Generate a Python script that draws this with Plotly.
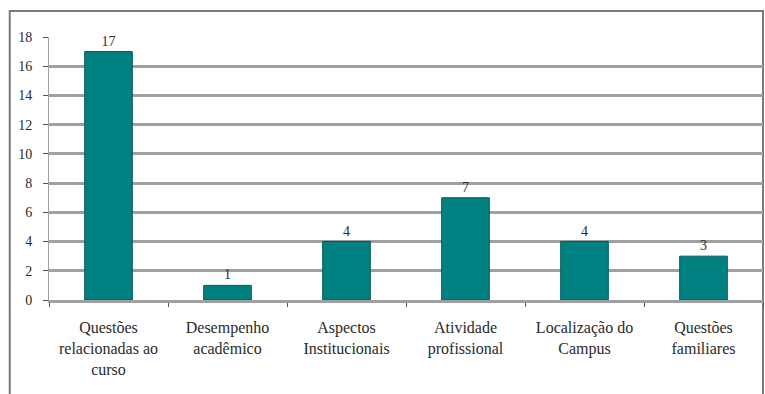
import plotly.graph_objects as go

# Motivos citados e número de respostas
categorias = [
    "Questões<br>relacionadas ao<br>curso",
    "Desempenho<br>acadêmico",
    "Aspectos<br>Institucionais",
    "Atividade<br>profissional",
    "Localização do<br>Campus",
    "Questões<br>familiares",
]
respostas = [17, 1, 4, 7, 4, 3]
y_ticks = list(range(0, 20, 2))

fonte = "Liberation Serif, Times New Roman, serif"
cinza = "#a0a0a0"
texto = "#2a2a2a"

fig = go.Figure(
    go.Bar(
        x=categorias,
        y=respostas,
        marker=dict(color="#008080", line=dict(color="#005a5a", width=1)),
        text=respostas,
        textposition="outside",
        textfont=dict(family=fonte, size=14, color=texto),
        cliponaxis=False,
    )
)

fig.update_layout(
    width=765,
    height=394,
    margin=dict(l=49, r=2, t=37, b=94),
    paper_bgcolor="white",
    plot_bgcolor="white",
    bargap=0.6,
    showlegend=False,
    font=dict(family=fonte, size=16, color=texto),
    xaxis=dict(
        showgrid=False,
        showline=True,
        linecolor=cinza,
        linewidth=3,
        ticks="outside",
        tickson="boundaries",
        ticklen=4,
        tickcolor="#555555",
        tickfont=dict(family=fonte, size=16, color=texto),
        ticklabelstandoff=11,
    ),
    yaxis=dict(
        range=[0, 18],
        tickvals=y_ticks,
        showgrid=True,
        gridcolor=cinza,
        gridwidth=3,
        zeroline=False,
        showline=True,
        linecolor=cinza,
        linewidth=1,
        ticks="outside",
        ticklen=5,
        tickcolor="#555555",
        tickfont=dict(family=fonte, size=14, color=texto),
        ticklabelstandoff=8,
    ),
    shapes=[
        dict(
            type="rect",
            xref="paper",
            yref="paper",
            x0=-0.055,
            x1=1.0,
            y0=-0.5,
            y1=1.099,
            line=dict(color="#7a7a7a", width=2),
            layer="below",
        )
    ],
)

fig.write_html("out.html")
